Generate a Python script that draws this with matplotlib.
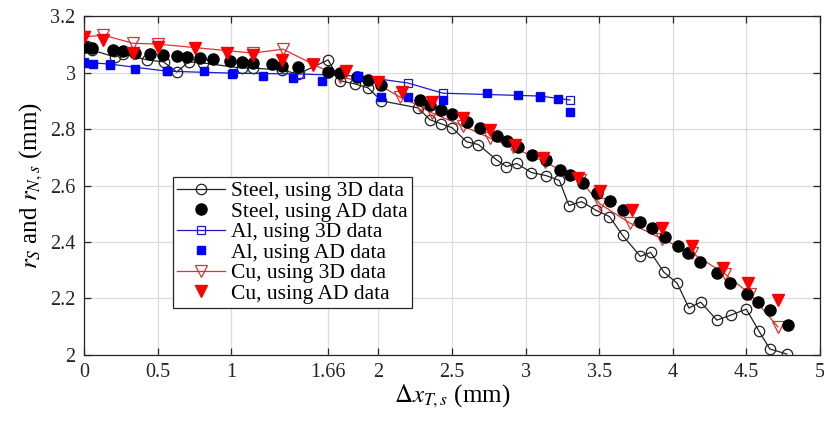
import numpy as np
import matplotlib
matplotlib.use('Agg')
import matplotlib.pyplot as plt

plt.rcParams['font.family'] = 'Liberation Serif'
plt.rcParams['mathtext.fontset'] = 'stix'

# Steel, 3D data
steel_3d_x = [0.02, 0.054, 0.21, 0.265, 0.43, 0.54, 0.63, 0.71, 0.81, 1.07, 1.15, 1.345,
              1.454, 1.658, 1.74, 1.84, 1.93, 2.02, 2.27, 2.35, 2.425, 2.50, 2.60, 2.68,
              2.80, 2.87, 2.94, 3.04, 3.14, 3.23, 3.295, 3.38, 3.48, 3.57, 3.66, 3.78,
              3.85, 3.94, 4.03, 4.11, 4.19, 4.30, 4.395, 4.50, 4.585, 4.66, 4.775]
steel_3d_y = [3.094, 3.080, 3.055, 3.066, 3.045, 3.038, 3.002, 3.038, 3.034, 3.016, 3.016, 3.009,
              2.995, 3.045, 2.971, 2.960, 2.946, 2.900, 2.875, 2.833, 2.819, 2.805, 2.755, 2.745,
              2.692, 2.667, 2.678, 2.646, 2.635, 2.618, 2.529, 2.543, 2.512, 2.490, 2.423, 2.349,
              2.363, 2.293, 2.254, 2.166, 2.187, 2.123, 2.141, 2.162, 2.085, 2.021, 2.003]

# Steel, AD data
steel_ad_x = [0.007, 0.054, 0.197, 0.265, 0.346, 0.448, 0.537, 0.632, 0.700, 0.788, 0.876,
              0.992, 1.073, 1.148, 1.277, 1.345, 1.454, 1.658, 1.739, 1.855, 1.929, 2.018,
              2.283, 2.351, 2.425, 2.500, 2.602, 2.690, 2.806, 2.874, 2.948, 3.043, 3.139,
              3.234, 3.302, 3.390, 3.485, 3.573, 3.661, 3.777, 3.859, 3.947, 4.035, 4.103,
              4.185, 4.300, 4.389, 4.504, 4.579, 4.660, 4.783]
steel_ad_y = [3.090, 3.087, 3.080, 3.076, 3.069, 3.065, 3.062, 3.058, 3.055, 3.051, 3.048,
              3.041, 3.037, 3.034, 3.030, 3.023, 3.019, 3.002, 2.998, 2.984, 2.973, 2.956,
              2.903, 2.885, 2.867, 2.853, 2.825, 2.804, 2.775, 2.758, 2.736, 2.708, 2.690,
              2.655, 2.637, 2.609, 2.573, 2.545, 2.513, 2.471, 2.450, 2.418, 2.386, 2.361,
              2.329, 2.290, 2.255, 2.216, 2.188, 2.159, 2.106]

# Al, 3D data
al_3d_x = [0.0, 0.177, 0.564, 1.012, 1.467, 1.861, 2.201, 2.439, 3.098, 3.302]
al_3d_y = [3.037, 3.030, 3.005, 2.998, 2.995, 2.988, 2.963, 2.927, 2.917, 2.903]

# Al, AD data
al_ad_x = [0.0, 0.061, 0.177, 0.346, 0.564, 0.815, 1.005, 1.216, 1.420, 1.617, 1.861,
           2.018, 2.201, 2.439, 2.738, 2.948, 3.098, 3.220, 3.302]
al_ad_y = [3.034, 3.030, 3.027, 3.012, 3.005, 3.005, 2.995, 2.988, 2.981, 2.970, 2.988,
           2.913, 2.913, 2.903, 2.927, 2.920, 2.913, 2.906, 2.860]

# Cu, 3D data
cu_3d_x = [0.0, 0.129, 0.333, 0.503, 1.148, 1.352, 1.556, 1.739, 1.997, 2.147, 2.283,
           2.364, 2.575, 2.758, 2.914, 3.132, 3.370, 3.505, 3.709, 3.927, 4.130, 4.355,
           4.524, 4.715]
cu_3d_y = [3.126, 3.133, 3.104, 3.101, 3.069, 3.083, 3.030, 2.984, 2.959, 2.913, 2.881,
           2.857, 2.811, 2.768, 2.736, 2.683, 2.620, 2.535, 2.467, 2.411, 2.361, 2.287,
           2.216, 2.099]

# Cu, AD data
cu_ad_x = [0.0, 0.129, 0.333, 0.503, 0.754, 0.971, 1.148, 1.345, 1.556, 1.780, 1.997,
           2.160, 2.364, 2.575, 2.758, 2.928, 3.118, 3.356, 3.505, 3.723, 3.927, 4.130,
           4.341, 4.511, 4.715]
cu_ad_y = [3.126, 3.115, 3.069, 3.090, 3.087, 3.069, 3.062, 3.044, 3.027, 3.005, 2.966,
           2.931, 2.896, 2.839, 2.796, 2.743, 2.697, 2.627, 2.581, 2.513, 2.450, 2.386,
           2.308, 2.255, 2.195]

x_ticks = [0, 0.5, 1, 1.66, 2, 2.5, 3, 3.5, 4, 4.5, 5]
x_tick_labels = ['0', '0.5', '1', '1.66', '2', '2.5', '3', '3.5', '4', '4.5', '5']
y_ticks = [2, 2.2, 2.4, 2.6, 2.8, 3, 3.2]
y_tick_labels = ['2', '2.2', '2.4', '2.6', '2.8', '3', '3.2']

fig = plt.figure(figsize=(8.24, 4.25), dpi=100)
ax = fig.add_axes([0.102, 0.165, 0.893, 0.797])

ax.plot(steel_3d_x, steel_3d_y, color='#222222', linewidth=0.9, marker='o',
        markersize=7.5, markerfacecolor='none', markeredgecolor='#222222',
        markeredgewidth=0.9, label='Steel, using 3D data', zorder=3)
ax.plot(steel_ad_x, steel_ad_y, linestyle='none', marker='o', markersize=8,
        color='black', label='Steel, using AD data', zorder=4)
ax.plot(al_3d_x, al_3d_y, color='#1a1acc', linewidth=0.9, marker='s',
        markersize=6, markerfacecolor='none', markeredgecolor='#1a1acc',
        markeredgewidth=0.9, label='Al, using 3D data', zorder=3)
ax.plot(al_ad_x, al_ad_y, linestyle='none', marker='s', markersize=6,
        color='#0000ff', label='Al, using AD data', zorder=4)
ax.plot(cu_3d_x, cu_3d_y, color='#e03030', linewidth=0.9, marker='v',
        markersize=8, markerfacecolor='none', markeredgecolor='#e03030',
        markeredgewidth=0.9, label='Cu, using 3D data', zorder=3)
ax.plot(cu_ad_x, cu_ad_y, linestyle='none', marker='v', markersize=8.5,
        color='#ff0000', label='Cu, using AD data', zorder=5)

ax.set_xlim(0, 5)
ax.set_ylim(2, 3.2)
ax.set_xticks(x_ticks)
ax.set_xticklabels(x_tick_labels)
ax.set_yticks(y_ticks)
ax.set_yticklabels(y_tick_labels)
ax.tick_params(direction='in', top=True, right=True, labelsize=14.5,
               length=5, width=0.9, colors='#262626', pad=6)
ax.grid(True, color='#dcdcdc', linewidth=0.9, zorder=0)
ax.set_axisbelow(True)
for sp in ax.spines.values():
    sp.set_color('#262626')
    sp.set_linewidth(0.9)

ax.set_xlabel(r'$\Delta x_{T,s}$ (mm)', fontsize=18, labelpad=0)
ax.set_ylabel(r'$r_S$ and $r_{N,s}$ (mm)', fontsize=18, labelpad=4)

leg = ax.legend(loc='upper left', bbox_to_anchor=(0.121, 0.525), fontsize=15.5,
                frameon=True, fancybox=False, framealpha=1, edgecolor='#262626',
                handlelength=2.2, handletextpad=0.3, labelspacing=0.02,
                borderpad=0.2, borderaxespad=0)
leg.get_frame().set_linewidth(0.9)

fig.savefig('out.png', dpi=100)
